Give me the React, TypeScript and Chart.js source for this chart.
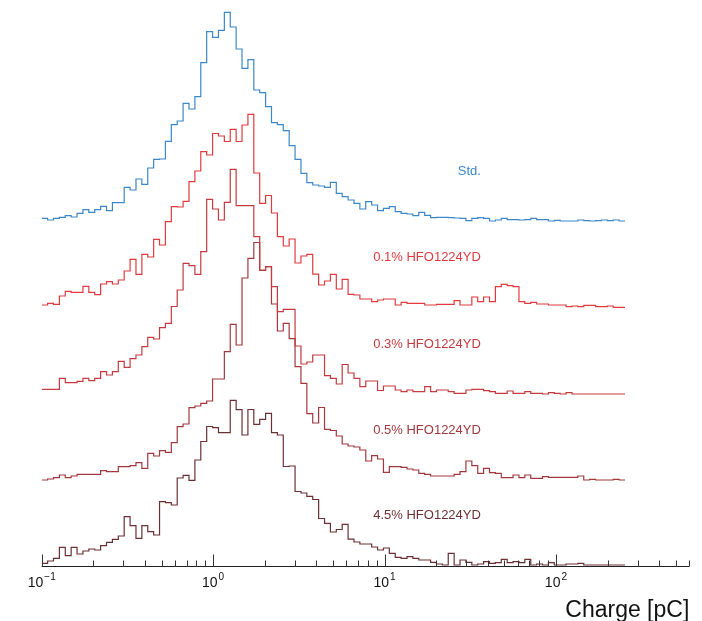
import React, { useEffect, useRef } from "react";
import { Chart, registerables } from "chart.js";

Chart.register(...registerables);

// ---- series meta ----
const SERIES_NAMES = ["Std.", "0.1% HFO1224YD", "0.3% HFO1224YD", "0.5% HFO1224YD", "4.5% HFO1224YD"];
const SERIES_COLORS = ["#3b87c7", "#e03a3f", "#c43a3e", "#a0383d", "#6a3034"];
const SERIES_OFFSETS = [344, 258, 171, 85, 0];

// ---- binning (log-spaced charge bins) ----
const BIN_LO = 0.1;
const BIN_HI = 253;
const N_BINS = 99;

// ---- axis ----
const X_MIN = 0.1;
const X_MAX = 600;
const Y_MAX = 560;
const X_DECADES = [0.1, 1, 10, 100];
const X_DECADE_EXP = ["\u22121", "0", "1", "2"];
const X_TITLE = "Charge [pC]";
const LABEL_X = 36.5;
const LABEL_DY = 51;

// ---- bin contents (arbitrary units, one value per bin) ----
const STD = [
  3.7, 2, 3.7, 4.7, 6.3, 5, 8.7, 12.3, 9.7, 12.3,
  15.7, 11.3, 19.3, 19.3, 34.7, 32, 43, 37.7, 54, 62.7,
  63, 80.7, 97.3, 101, 118.7, 113, 125.3, 159.3, 190.3, 184.7,
  191.7, 209.7, 195, 173, 153.7, 162.3, 132, 129.3, 115.3, 99.3,
  97.3, 91.3, 76.3, 62.7, 48.7, 39.3, 37, 36, 34.7, 39.7,
  28.7, 25.3, 22, 18.7, 13, 20.3, 17, 11.3, 13.7, 15.3,
  10.3, 8.7, 8, 6.3, 9.7, 6.7, 4.3, 4.7, 4.7, 4.3,
  4, 3.7, 1.3, 3.7, 4.3, 3.7, 1, 2, 3.7, 2.3,
  2.3, 2, 2.3, 3.7, 2.3, 2.3, 1, 1.7, 1, 1,
  1, 2, 1.3, 1, 1.3, 2, 1.3, 2, 1,
];
const HFO_01 = [
  3, 4.7, 3.7, 12, 16.7, 15.7, 15.7, 21.7, 15.7, 13.3,
  24, 26.3, 24, 28, 37, 48.7, 33.7, 53.7, 51, 68.7,
  63, 86.3, 101.3, 101, 106.7, 126.3, 137, 156.3, 153, 174.5,
  172, 166.5, 178.7, 166.5, 183, 193.7, 135, 104.7, 112.5, 95,
  71.3, 62, 69, 45, 52, 53.7, 33.8, 23, 27, 33.7,
  19, 28.7, 13.7, 13, 9, 9, 6.3, 8, 9, 9,
  3, 5.7, 4.7, 4.7, 4.7, 3, 3, 3.7, 3.7, 3.7,
  7.3, 3, 3, 11, 6.3, 11, 6.3, 21.3, 23.7, 22.3,
  21.3, 6.3, 4.7, 5.7, 4, 4, 3, 3, 3, 1.3,
  2, 1.3, 2.7, 2.7, 1.3, 1.3, 2, 0.7, 0.7,
];
const HFO_03 = [
  5.7, 5.7, 5.7, 16.7, 12.3, 12.3, 13.7, 16.7, 14.3, 16.7,
  23.3, 20, 23.3, 33.7, 27.7, 36.3, 40, 48.3, 57.7, 56,
  67.3, 71.7, 88.5, 105, 131.7, 129.3, 120.7, 143.3, 195.7, 186,
  175, 192.7, 225.7, 189.3, 189.3, 189.3, 158.3, 125, 128.3, 108.3,
  83.3, 85.7, 85.7, 49, 31, 33, 40, 40, 19.3, 16.7,
  11, 30.5, 22, 16.7, 8.3, 14, 14, 4.5, 9, 9,
  5, 3.3, 5, 3.3, 3.3, 8.3, 3.3, 5, 5, 3.3,
  1.7, 1.7, 5, 5.7, 5.7, 4.3, 3.3, 1.7, 1.7, 4,
  1.7, 1.7, 3.3, 1.7, 1.7, 1, 2.3, 1.7, 1, 2.3,
  1, 1, 1, 1, 1, 1, 1, 1, 1,
];
const HFO_05 = [
  1, 2, 3.3, 6, 3.3, 5, 6.7, 6.7, 6.7, 6.7,
  10.3, 9.3, 9.3, 14.3, 14.3, 15.3, 18.3, 12.7, 27.7, 25,
  30.3, 28.7, 38.3, 54.3, 57, 73.3, 75, 77.7, 80, 102,
  102, 129.3, 156.7, 136, 203, 222.7, 238.5, 210.5, 214.3, 177,
  150, 157.7, 142.3, 114.3, 97.7, 67.3, 58, 73.5, 51.7, 50.5,
  45, 37, 35, 34, 31, 20, 25.3, 22, 8.7, 14.3,
  14.3, 13.7, 12, 11, 7.7, 6.7, 5, 5, 5, 5,
  6.7, 9.3, 20, 15.3, 7.7, 12.7, 8.3, 7.7, 3.3, 3.3,
  6, 3.3, 6, 2.7, 2.7, 4.3, 3.7, 3.7, 3.7, 3.7,
  3.7, 5, 1, 1.7, 1, 1, 1, 1.7, 1,
];
const HFO_45 = [
  2.7, 5, 7.7, 18.7, 10.3, 18.7, 12, 15, 17, 16,
  20.3, 23.7, 26.7, 30, 49.3, 40.3, 27.7, 40.3, 34.3, 31,
  64.3, 63.3, 61, 88, 90.7, 85.7, 106, 124.5, 139.5, 138.3,
  133.3, 133.3, 165.7, 156.3, 131, 156.5, 141.7, 146.7, 152.7, 133.3,
  131, 99.5, 100, 74.5, 73, 69.7, 66.5, 47.5, 42.7, 34,
  36.5, 41.7, 26.8, 24, 22, 22, 19, 16, 18, 12.7,
  8.7, 7.7, 9.3, 7.7, 6, 6, 3.7, 2, 1, 12.7,
  1, 6, 3.7, 1, 2, 4.3, 2.7, 3.3, 6.7, 3.3,
  4.3, 3.3, 6.7, 1, 2, 1, 3.3, 1, 1, 2,
  2, 2.7, 1, 1, 1, 1, 1, 1, 1,
];

const SERIES_VALUES = [STD, HFO_01, HFO_03, HFO_05, HFO_45];

const FONT = '"Liberation Sans", Arial, Helvetica, sans-serif';

function binEdges(): number[] {
  const lo = Math.log10(BIN_LO);
  const hi = Math.log10(BIN_HI);
  const out: number[] = [];
  for (let i = 0; i <= N_BINS; i++) out.push(Math.pow(10, lo + ((hi - lo) * i) / N_BINS));
  return out;
}

const axisPlugin = {
  id: "rootAxis",
  afterDraw(chart: any) {
    const { ctx, chartArea } = chart;
    const xs = chart.scales.x;
    const yb = Math.round(chartArea.bottom) + 0.5;
    ctx.save();
    ctx.strokeStyle = "#222";
    ctx.lineWidth = 1;
    ctx.beginPath();
    ctx.moveTo(chartArea.left, yb);
    ctx.lineTo(chartArea.right, yb);
    ctx.stroke();
    // ticks
    ctx.strokeStyle = "#333";
    X_DECADES.forEach((d) => {
      for (let m = 1; m <= 9; m++) {
        const v = d * m;
        if (v > X_MAX * 1.0001) continue;
        const px = Math.round(xs.getPixelForValue(v)) + 0.5;
        const len = m === 1 ? 12 : 6;
        ctx.beginPath();
        ctx.moveTo(px, yb);
        ctx.lineTo(px, yb - len);
        ctx.stroke();
      }
    });
    // decade labels
    ctx.fillStyle = "#111";
    ctx.textBaseline = "alphabetic";
    ctx.textAlign = "left";
    X_DECADES.forEach((d, i) => {
      const px = xs.getPixelForValue(d);
      ctx.font = `14px ${FONT}`;
      const w1 = ctx.measureText("10").width;
      ctx.font = `10px ${FONT}`;
      const w2 = ctx.measureText(X_DECADE_EXP[i]).width;
      const total = w1 + 1 + w2;
      const x0 = px - total / 2;
      ctx.font = `14px ${FONT}`;
      ctx.fillText("10", x0, 587);
      ctx.font = `10px ${FONT}`;
      ctx.fillText(X_DECADE_EXP[i], x0 + w1 + 1, 580);
    });
    // title
    ctx.font = `23px ${FONT}`;
    ctx.textAlign = "right";
    ctx.fillStyle = "#111";
    ctx.fillText(X_TITLE, chartArea.right, 617);
    ctx.restore();
  },
};

const labelPlugin = {
  id: "seriesLabels",
  afterDatasetsDraw(chart: any) {
    const { ctx } = chart;
    const xs = chart.scales.x;
    const ys = chart.scales.y;
    ctx.save();
    ctx.font = `13px ${FONT}`;
    ctx.textAlign = "right";
    ctx.textBaseline = "middle";
    SERIES_NAMES.forEach((name, i) => {
      ctx.fillStyle = SERIES_COLORS[i];
      ctx.fillText(name, xs.getPixelForValue(LABEL_X), ys.getPixelForValue(SERIES_OFFSETS[i] + LABEL_DY));
    });
    ctx.restore();
  },
};

export default function App() {
  const ref = useRef<HTMLCanvasElement | null>(null);
  useEffect(() => {
    if (!ref.current) return;
    const edges = binEdges();
    const datasets = SERIES_VALUES.map((vals, si) => ({
      label: SERIES_NAMES[si],
      data: edges.map((e, i) => ({ x: e, y: SERIES_OFFSETS[si] + vals[Math.min(i, vals.length - 1)] })),
      borderColor: SERIES_COLORS[si],
      backgroundColor: SERIES_COLORS[si],
      borderWidth: 1.2,
      stepped: true as const,
      pointRadius: 0,
      fill: false,
    }));
    const chart = new Chart(ref.current, {
      type: "line",
      data: { datasets },
      options: {
        animation: false,
        responsive: false,
        maintainAspectRatio: false,
        layout: { padding: { left: 41.7, right: 12.7, top: 6, bottom: 55 } },
        scales: {
          x: { type: "logarithmic", min: X_MIN, max: X_MAX, display: false },
          y: { type: "linear", min: 0, max: Y_MAX, display: false },
        },
        plugins: { legend: { display: false }, tooltip: { enabled: false } },
      },
      plugins: [axisPlugin, labelPlugin],
    });
    return () => chart.destroy();
  }, []);
  return (
    <div style={{ position: "fixed", left: 0, top: 0, width: 702, height: 621, background: "#fff" }}>
      <canvas ref={ref} width={702} height={621} style={{ display: "block", width: 702, height: 621 }} />
    </div>
  );
}
